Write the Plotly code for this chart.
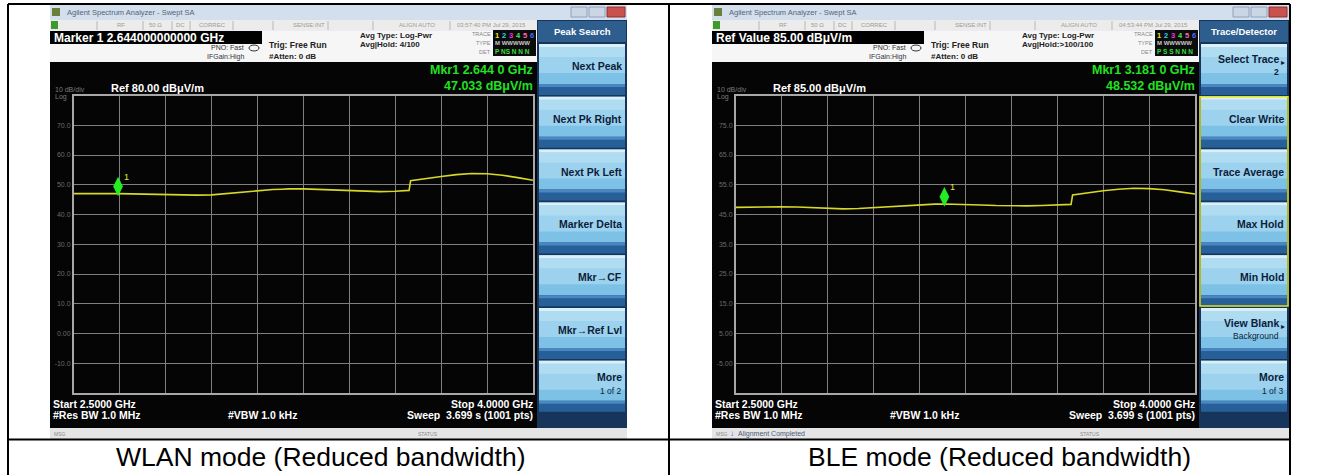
import plotly.graph_objects as go

# ---------------------------------------------------------------- data
freq_ghz = [2.500, 2.550, 2.600, 2.644, 2.700, 2.750, 2.800, 2.850, 2.900, 2.950,
            3.000, 3.050, 3.100, 3.150, 3.181, 3.200, 3.250, 3.300, 3.350, 3.400,
            3.450, 3.500, 3.550, 3.595, 3.600, 3.650, 3.700, 3.750, 3.800, 3.850,
            3.900, 3.950, 4.000]

wlan_level = [47.0, 47.1, 47.0, 47.03, 46.9, 46.8, 46.7, 46.6, 46.5, 46.6,
              47.1, 47.6, 48.1, 48.4, 48.5, 48.6, 48.6, 48.4, 48.2, 48.0,
              47.8, 47.7, 47.8, 48.1, 51.4, 52.2, 52.8, 53.4, 53.8, 53.7,
              53.2, 52.4, 51.5]

ble_level = [47.4, 47.5, 47.6, 47.6, 47.5, 47.3, 47.1, 46.9, 47.0, 47.3,
             47.7, 48.0, 48.3, 48.5, 48.53, 48.5, 48.4, 48.2, 48.0, 47.9,
             47.9, 48.0, 48.2, 48.4, 51.6, 52.4, 53.0, 53.5, 53.8, 53.7,
             53.3, 52.6, 51.9]

wlan_marker = (2.644, 47.033)
ble_marker = (3.181, 48.532)

wlan_ref = 80.0
ble_ref = 85.0

wlan_keys = [("Next Peak",), ("Next Pk Right",), ("Next Pk Left",), ("Marker Delta",),
             ("Mkr\u2192CF",), ("Mkr\u2192Ref Lvl",), ("More", "1 of 2")]
ble_keys = [("Select Trace", "2", "arrow"), ("Clear Write",), ("Trace Average",),
            ("Max Hold",), ("Min Hold",), ("View Blank", "Background", "arrow"),
            ("More", "1 of 3")]

captions = ["WLAN mode (Reduced bandwidth)", "BLE mode (Reduced bandwidth)"]

# ---------------------------------------------------------------- helpers
W, H = 1335, 475
FONT = "Liberation Sans, Arial, sans-serif"
shapes, annotations = [], []


def X(px):
    return px / W


def Y(py):
    return 1 - py / H


def rect(x0, y0, x1, y1, fill, line=None, lw=0):
    shapes.append(dict(type="rect", xref="paper", yref="paper",
                       x0=X(x0), x1=X(x1), y0=Y(y1), y1=Y(y0),
                       fillcolor=fill, layer="below",
                       line=dict(color=line or fill, width=lw)))


def seg(x0, y0, x1, y1, color, width=1):
    shapes.append(dict(type="line", xref="paper", yref="paper",
                       x0=X(x0), x1=X(x1), y0=Y(y0), y1=Y(y1), layer="below",
                       line=dict(color=color, width=width)))


def txt(x, y, s, size, color, bold=False, xanchor="left", yanchor="middle"):
    annotations.append(dict(xref="paper", yref="paper", x=X(x), y=Y(y),
                            text=f"<b>{s}</b>" if bold else s, showarrow=False,
                            xanchor=xanchor, yanchor=yanchor, borderpad=0,
                            font=dict(size=size, color=color, family=FONT)))


def fmt_mkr(f):
    s = f"{f:.4f}"
    return s[:-1] + " " + s[-1]


# ---------------------------------------------------------------- analyzer window
def screen(dx, time_str, active_line, avg_hold, ref, marker, menu_title, keys,
           trace_row, det_row, msg, box_keys=None):
    L, R = 50 + dx, 627 + dx
    P = 537 + dx  # soft-key panel left edge
    # title bar
    rect(L, 5, R, 20, "#d3dfec")
    rect(L + 2, 8, L + 10, 16, "#6b7f3a")
    txt(L + 16, 12.5, "Agilent Spectrum Analyzer - Swept SA", 7.5, "#56657a")
    rect(R - 56, 7, R - 40, 17, "#cbd6e4", "#8ea2bb", 1)
    rect(R - 38, 7, R - 22, 17, "#cbd6e4", "#8ea2bb", 1)
    rect(R - 20, 7, R - 2, 17, "#c9524e", "#8e3030", 1)
    # status row
    rect(L, 20, P, 31, "#ececec")
    rect(L + 1, 21, L + 8, 29, "#3f9a2c")
    for sx in (97, 143, 172, 190, 233, 273, 328, 373, 450):
        seg(sx + dx, 21, sx + dx, 30, "#b8b8b8", 1)
    for sx, s in ((116, "RF"), (148, "50 \u03a9"), (175, "DC"), (198, "CORREC"),
                  (292, "SENSE:INT"), (398, "ALIGN AUTO"), (456, time_str)):
        txt(sx + dx, 25.5, s, 6, "#9a9a9a")
    # info area and active function
    rect(L, 31, P, 62, "#f6f6f6")
    rect(L, 31, 262 + dx, 44, "#000000")
    txt(L + 3, 37.5, active_line, 12, "#ffffff", bold=True)
    txt(245 + dx, 47.5, "PNO: Fast", 7, "#333333", xanchor="right")
    txt(245 + dx, 56.5, "IFGain:High", 7, "#333333", xanchor="right")
    shapes.append(dict(type="circle", xref="paper", yref="paper",
                       x0=X(249 + dx), x1=X(259 + dx), y0=Y(51), y1=Y(45),
                       line=dict(color="#333333", width=1), layer="below"))
    txt(268 + dx, 45, "Trig: Free Run", 8.5, "#222222", bold=True)
    txt(268 + dx, 56, "#Atten: 0 dB", 8, "#222222", bold=True)
    txt(359 + dx, 35.5, "Avg Type: Log-Pwr", 8, "#222222", bold=True)
    txt(359 + dx, 45, avg_hold, 8, "#222222", bold=True)
    txt(492 + dx, 34, "TRACE", 5.5, "#888888", xanchor="right")
    txt(492 + dx, 43, "TYPE", 5.5, "#888888", xanchor="right")
    txt(492 + dx, 51.5, "DET", 5.5, "#888888", xanchor="right")
    rect(493 + dx, 30, 536 + dx, 56, "#0c0c0c")
    digit_cols = ["#e8e82a", "#2ad8e8", "#e83ae0", "#4ae84a", "#ff6ab0", "#4a6aff"]
    for i, c in enumerate(digit_cols):
        txt(497 + 7 * i + dx, 35, str(i + 1), 7.5, c, bold=True, xanchor="center")
    txt(494 + dx, 43, trace_row, 6, "#c8c8c8", bold=True)
    txt(494 + dx, 51.5, det_row, 6.5, "#3adf3a", bold=True)
    # display
    rect(L, 62, P, 428, "#050505")
    txt(54 + dx, 89, "10 dB/div", 7, "#7c7c7c")
    txt(54 + dx, 97, "Log", 7, "#7c7c7c")
    txt(110 + dx, 88, f"Ref {ref:.2f} dB\u03bcV/m", 11, "#ffffff", bold=True)
    txt(534 + dx, 77.5, f"Mkr1 {fmt_mkr(marker[0])} GHz", 12.5, "#22e022", bold=True,
        xanchor="right", yanchor="bottom")
    txt(534 + dx, 77.5, f"{marker[1]:.3f} dB\u03bcV/m", 12.5, "#22e022", bold=True,
        xanchor="right", yanchor="top")
    txt(52 + dx, 404, "Start 2.5000 GHz", 10.5, "#ffffff", bold=True)
    txt(52 + dx, 415, "#Res BW 1.0 MHz", 10.5, "#ffffff", bold=True)
    txt(227 + dx, 415, "#VBW 1.0 kHz", 10.5, "#ffffff", bold=True)
    txt(534 + dx, 404, "Stop 4.0000 GHz", 10.5, "#ffffff", bold=True, xanchor="right")
    txt(534 + dx, 415, "Sweep  3.699 s (1001 pts)", 10.5, "#ffffff", bold=True,
        xanchor="right")
    # message bar
    rect(L, 428, R, 439, "#e5e5e5")
    txt(L + 3, 433.5, "MSG", 5, "#8a8a8a")
    if msg:
        txt(L + 17, 433.5, "\u2193", 8, "#3060c0", bold=True)
        txt(L + 25, 433.5, msg, 7, "#4a5a7a")
    txt(417 + dx, 433.5, "STATUS", 5, "#8a8a8a")
    # soft keys
    rect(P, 20, R, 428, "#17355a")
    rect(P + 1, 21, R - 1, 42, "#2e5e8e")
    txt((P + R) / 2, 31.5, menu_title, 9.5, "#ffffff", bold=True, xanchor="center")
    pitch = 52.8
    for i, key in enumerate(keys):
        top = 43 + pitch * i
        rect(P + 2, top + 1, R - 2, top + 41, "#9cd2ee")
        rect(P + 2, top + 1, R - 2, top + 4, "#d9f0fa")
        rect(P + 2, top + 4, R - 2, top + 14, "#b0dcf2")
        rect(P + 2, top + 30, R - 2, top + 41, "#7dc2e6")
        rect(P + 2, top + 41, R - 2, top + 52, "#275f98")
        rect(P + 2, top + 41, R - 2, top + 44, "#4a86bf")
        tx = R - 4
        if len(key) == 1:
            txt(tx, top + 23, key[0], 10.5, "#0d1d3a", bold=True, xanchor="right")
        elif len(key) == 2:
            txt(tx, top + 17, key[0], 10.5, "#0d1d3a", bold=True, xanchor="right")
            txt(tx, top + 31, key[1], 8.5, "#0d1d3a", xanchor="right")
        else:
            txt(tx - 5, top + 16, key[0], 10.5, "#0d1d3a", bold=True, xanchor="right")
            txt(tx - 5, top + 29, key[1], 8.5, "#0d1d3a",
                bold=(key[1] == "2"), xanchor="right")
            txt(tx + 1, top + 19, "\u25b8", 8, "#0d1d3a", xanchor="right")
    if box_keys:
        a, b = box_keys
        shapes.append(dict(type="rect", xref="paper", yref="paper",
                           x0=X(P + 1), x1=X(R - 1),
                           y0=Y(43 + pitch * (b + 1) - 1), y1=Y(43 + pitch * a + 1),
                           line=dict(color="#e4e41c", width=1.5), layer="below"))


DX = 662
screen(0, "03:57:40 PM Jul 29, 2015",
       f"Marker 1 {wlan_marker[0]:.12f} GHz", "Avg|Hold: 4/100", wlan_ref,
       wlan_marker, "Peak Search", wlan_keys, "M WWWWW", "P NS N N N", None)
screen(DX, "04:53:44 PM Jul 29, 2015",
       f"Ref Value {ble_ref:.2f} dB\u03bcV/m", "Avg|Hold:>100/100", ble_ref,
       ble_marker, "Trace/Detector", ble_keys, "M WWWWW", "P S S N N N",
       "Alignment Completed", box_keys=(1, 4))

# ---------------------------------------------------------------- table frame
for x in (8, 669, 1290):
    seg(x, 4, x, 475, "#000000", 2)
seg(8, 4, 1290, 4, "#000000", 2)
seg(8, 439.5, 1290, 439.5, "#000000", 2)
txt(320, 457, captions[0], 26.5, "#000000", xanchor="center")
txt(999, 457, captions[1], 26.5, "#000000", xanchor="center")

# ---------------------------------------------------------------- traces
fig = go.Figure()
YELLOW = "#d8d826"
GREEN = "#22ee22"
lift = 2.4  # marker diamond sits just above the trace point (dB)

for k, (lev, mk, ax) in enumerate(((wlan_level, wlan_marker, ""),
                                   (ble_level, ble_marker, "2"))):
    fig.add_trace(go.Scatter(x=freq_ghz, y=lev, mode="lines",
                             line=dict(color=YELLOW, width=1.6),
                             xaxis="x" + ax, yaxis="y" + ax, hoverinfo="skip"))
    fig.add_trace(go.Scatter(x=[mk[0]], y=[mk[1] + lift], mode="markers",
                             marker=dict(symbol="diamond-tall", size=14, color=GREEN),
                             xaxis="x" + ax, yaxis="y" + ax, hoverinfo="skip"))
    annotations.append(dict(xref="x" + ax, yref="y" + ax, x=mk[0], y=mk[1],
                            text="1", showarrow=False, xshift=8, yshift=17,
                            font=dict(size=9, color="#e8e830", family=FONT)))

grid_x = [2.5 + 0.15 * i for i in range(1, 10)]


def yaxis_cfg(ref):
    vals = [ref - 10 * i for i in range(1, 10)]
    text = [f"{v:.1f}" if abs(v) >= 10 else f"{v:.2f}" for v in vals]
    return dict(domain=[Y(393), Y(95.5)], range=[ref - 100, ref], tickvals=vals,
                ticktext=text, showgrid=True, gridcolor="#808080", gridwidth=1.4,
                zeroline=False, showline=True, linecolor="#a8a8a8", linewidth=2,
                mirror=True, ticks="", tickfont=dict(size=7, color="#6a6a6a",
                                                     family=FONT),
                fixedrange=True)


def xaxis_cfg(x0, x1, anchor):
    return dict(domain=[X(x0), X(x1)], range=[2.5, 4.0], tickvals=grid_x,
                showticklabels=False, showgrid=True, gridcolor="#808080",
                gridwidth=1.4, zeroline=False, showline=True, linecolor="#a8a8a8",
                linewidth=2, mirror=True, ticks="", anchor=anchor, fixedrange=True)


fig.update_layout(
    width=W, height=H, margin=dict(l=0, r=0, t=0, b=0),
    paper_bgcolor="#ffffff", plot_bgcolor="#050505", showlegend=False,
    xaxis=xaxis_cfg(74, 533, "y"), yaxis=dict(yaxis_cfg(wlan_ref), anchor="x"),
    xaxis2=xaxis_cfg(74 + DX, 533 + DX, "y2"),
    yaxis2=dict(yaxis_cfg(ble_ref), anchor="x2"),
    shapes=shapes, annotations=annotations,
)

fig.write_html("out.html")
